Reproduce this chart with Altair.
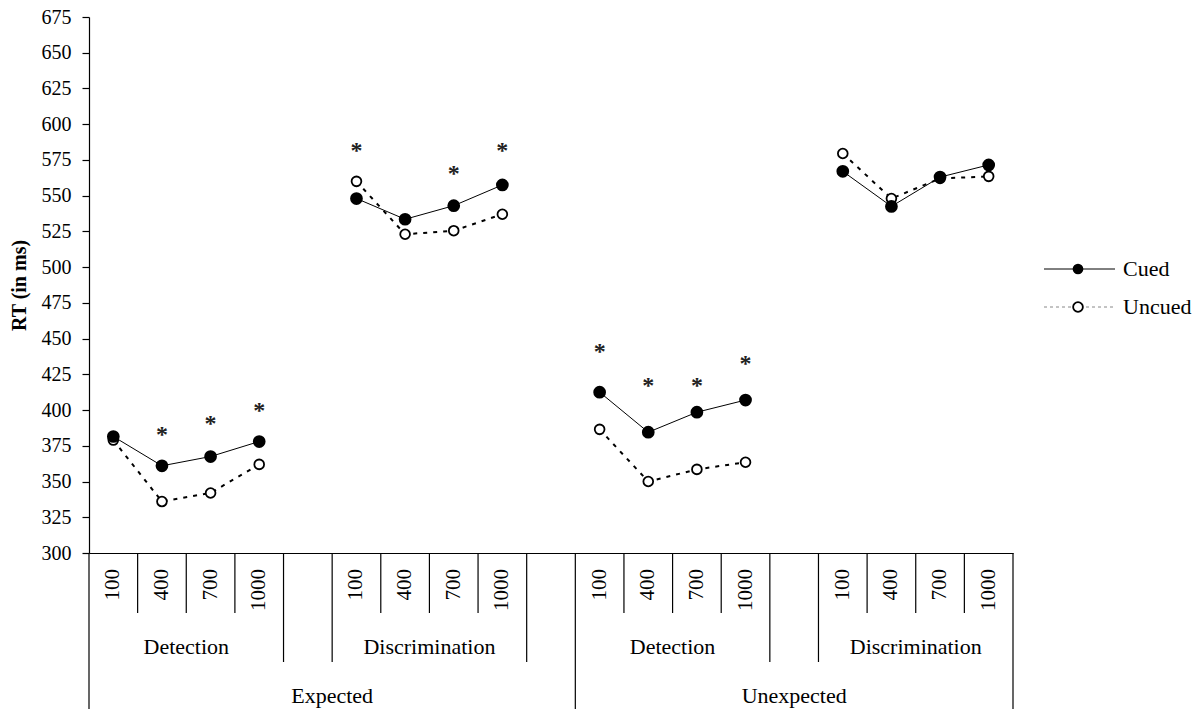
import altair as alt
import pandas as pd

# Design: 2 expectancy conditions x 2 tasks x 4 SOAs, cued vs uncued
conditions = ["Expected", "Unexpected"]
tasks = ["Detection", "Discrimination"]
soas = ["100", "400", "700", "1000"]

# Mean RTs (ms), one list per condition/task block, in SOA order
exp_det_cued = [381.5, 361, 367.5, 378]
exp_det_uncued = [379, 336, 342, 362]
exp_dis_cued = [548, 533.5, 543, 557.5]
exp_dis_uncued = [560, 523, 525.5, 537]
unexp_det_cued = [412.5, 384.5, 398.5, 407]
unexp_det_uncued = [386.5, 350, 358.5, 363.5]
unexp_dis_cued = [567, 542.5, 563, 571.5]
unexp_dis_uncued = [579.5, 548, 562, 563.5]

# Height at which a significance asterisk sits (None = no asterisk)
exp_det_star = [None, 386, 394, 403]
exp_dis_star = [585, None, 568.5, 585]
unexp_det_star = [444, 420.5, 420.5, 435.5]
unexp_dis_star = [None, None, None, None]

# Category slots along the x axis: 4 SOAs per block, one empty slot between blocks
block_start = [0, 5, 10, 15]
n_slots = 19

blocks = [
    ("Expected", "Detection", exp_det_cued, exp_det_uncued, exp_det_star),
    ("Expected", "Discrimination", exp_dis_cued, exp_dis_uncued, exp_dis_star),
    ("Unexpected", "Detection", unexp_det_cued, unexp_det_uncued, unexp_det_star),
    ("Unexpected", "Discrimination", unexp_dis_cued, unexp_dis_uncued, unexp_dis_star),
]

rows, stars, ticks = [], [], []
for b, (cond, task, cued, uncued, star) in enumerate(blocks):
    for i, soa in enumerate(soas):
        x = block_start[b] + i + 0.5
        rows.append(dict(x=x, rt=cued[i], cue="Cued", block=b))
        rows.append(dict(x=x, rt=uncued[i], cue="Uncued", block=b))
        if star[i] is not None:
            stars.append(dict(x=x, y=star[i]))
        ticks.append(dict(x=x, label=soa))
df = pd.DataFrame(rows)
star_df = pd.DataFrame(stars)
tick_df = pd.DataFrame(ticks)

group_df = pd.DataFrame([
    dict(x=block_start[b] + 2, label=blocks[b][1]) for b in range(4)
])
top_df = pd.DataFrame([dict(x=5, label=conditions[0]), dict(x=14.5, label=conditions[1])])

# Separator lines of the three-row category axis
tick_bounds = list(range(0, n_slots + 1))
group_bounds = [0, 4, 5, 9, 10, 14, 15, 19]
top_bounds = [0, 10, 19]

W, H = 924, 536
ROW1, ROW2, ROW3 = H + 60, H + 109, H + 156
FONT = "Times New Roman, Liberation Serif, DejaVu Serif, serif"

xs = alt.Scale(domain=[0, n_slots], range=[0, W], nice=False, zero=False)
ys = alt.Scale(domain=[300, 675], nice=False, zero=False)

x_axis = alt.Axis(labels=False, ticks=False, grid=False, title=None,
                  domainColor="black", domainWidth=1.2)
y_axis = alt.Axis(values=list(range(300, 676, 25)), grid=False,
                  ticks=True, tickSize=7, tickWidth=1.2, tickColor="black",
                  domainColor="black", domainWidth=1.2,
                  labelOverlap=False, labelFlush=False, labelBound=False,
                  labelFont=FONT, labelFontSize=20, labelColor="black",
                  labelPadding=11, title="RT (in ms)", titleFont=FONT,
                  titleFontSize=20, titleFontWeight="bold",
                  titleColor="black", titlePadding=12)

X = alt.X("x:Q", scale=xs, axis=x_axis)
Y = alt.Y("rt:Q", scale=ys, axis=y_axis)

base = alt.Chart(df)

cued_line = base.transform_filter(alt.datum.cue == "Cued").mark_line(
    color="black", strokeWidth=1).encode(x=X, y=Y, detail="block:N")
uncued_line = base.transform_filter(alt.datum.cue == "Uncued").mark_line(
    color="black", strokeWidth=2, strokeDash=[4, 6]).encode(x=X, y=Y, detail="block:N")
uncued_pts = base.transform_filter(alt.datum.cue == "Uncued").mark_point(
    shape="circle", filled=True, fill="white", stroke="black", strokeWidth=1.8,
    size=95, opacity=1).encode(x=X, y=Y)
cued_pts = base.transform_filter(alt.datum.cue == "Cued").mark_point(
    shape="circle", filled=True, fill="black", stroke="black", size=115,
    opacity=1).encode(x=X, y=Y)

star_marks = alt.Chart(star_df).mark_text(
    text="*", font=FONT, fontSize=24, fontWeight="bold", color="#222",
    baseline="middle", dy=5).encode(
    x=alt.X("x:Q", scale=xs, axis=x_axis), y=alt.Y("y:Q", scale=ys, axis=y_axis))


def seps(bounds, y1, y2):
    return alt.Chart(pd.DataFrame({"b": bounds})).mark_rule(
        color="black", strokeWidth=1.2).encode(
        x=alt.X("b:Q", scale=xs, axis=x_axis), y=alt.value(y1), y2=alt.value(y2))


sep1 = seps(tick_bounds, H, ROW1)
sep2 = seps(group_bounds, ROW1, ROW2)
sep3 = seps(top_bounds, ROW2, ROW3)

tick_text = alt.Chart(tick_df).mark_text(
    font=FONT, fontSize=21, angle=270, align="right", baseline="middle",
    color="black").encode(x=alt.X("x:Q", scale=xs, axis=x_axis),
                          y=alt.value(H + 16), text="label:N")
group_text = alt.Chart(group_df).mark_text(
    font=FONT, fontSize=22, baseline="alphabetic", color="black").encode(
    x=alt.X("x:Q", scale=xs, axis=x_axis), y=alt.value(ROW1 + 41), text="label:N")
top_text = alt.Chart(top_df).mark_text(
    font=FONT, fontSize=22, baseline="alphabetic", color="black").encode(
    x=alt.X("x:Q", scale=xs, axis=x_axis), y=alt.value(ROW2 + 41), text="label:N")

# Legend (one datum per key so every glyph is drawn once)
legend_df = pd.DataFrame({"cue": ["Cued"]})
LX1, LX2, LC, LT = W + 31, W + 102, W + 65, W + 110
LY1, LY2 = 252, 290
lg = alt.Chart(legend_df)
leg = [
    lg.mark_rule(color="black", strokeWidth=1).encode(
        x=alt.value(LX1), x2=alt.value(LX2), y=alt.value(LY1)),
    lg.mark_rule(color="#888", strokeWidth=1, strokeDash=[3, 3]).encode(
        x=alt.value(LX1), x2=alt.value(LX2), y=alt.value(LY2)),
    lg.mark_point(shape="circle", filled=True, fill="black", size=115,
                  opacity=1).encode(x=alt.value(LC), y=alt.value(LY1)),
    lg.mark_point(shape="circle", filled=True, fill="white", stroke="black",
                  strokeWidth=1.8, size=95, opacity=1).encode(
        x=alt.value(LC), y=alt.value(LY2)),
    lg.mark_text(text="Cued", font=FONT, fontSize=22, align="left",
                 baseline="middle", color="black").encode(
        x=alt.value(LT), y=alt.value(LY1)),
    lg.mark_text(text="Uncued", font=FONT, fontSize=22, align="left",
                 baseline="middle", color="black").encode(
        x=alt.value(LT), y=alt.value(LY2)),
]

chart = alt.layer(
    cued_line, uncued_line, uncued_pts, cued_pts, star_marks,
    sep1, sep2, sep3, tick_text, group_text, top_text, *leg
).properties(
    width=W, height=H,
    autosize=alt.AutoSizeParams(type="none"),
    padding={"left": 89, "top": 17, "right": 1204 - 89 - W, "bottom": 709 - 17 - H},
    background="white",
).configure_view(stroke=None)

chart.save("out.html", embed_options={"renderer": "svg", "actions": False})
